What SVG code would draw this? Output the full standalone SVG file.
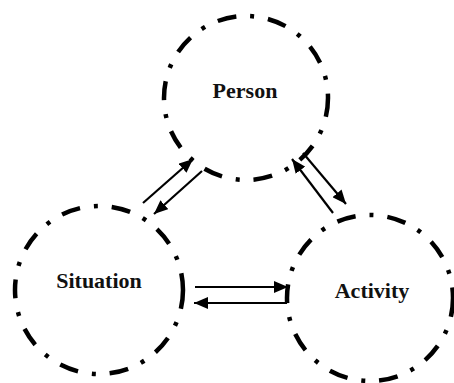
<svg xmlns="http://www.w3.org/2000/svg" width="454" height="383" viewBox="0 0 454 383">
<defs>
<style>
.node{fill:none;stroke:#000;stroke-width:4.5;stroke-dasharray:19 14 4 14}
.lbl{font-family:"Liberation Serif","Times New Roman",serif;font-weight:bold;font-size:22px;fill:#111;text-anchor:middle}
.arr{stroke:#000;stroke-width:2.2;fill:none;marker-end:url(#ah)}
</style>
<marker id="ah" markerUnits="userSpaceOnUse" markerWidth="14" markerHeight="12" refX="14" refY="6" orient="auto">
<path d="M0,0 L14,6 L0,12 z" fill="#000"/>
</marker>
</defs>
<rect width="454" height="383" fill="#fff"/>
<g id="person">
<circle class="node" cx="246" cy="98" r="82"/>
<text class="lbl" x="245" y="98">Person</text>
</g>
<g id="situation">
<circle class="node" cx="99" cy="290" r="84"/>
<text class="lbl" x="99" y="288">Situation</text>
</g>
<g id="activity">
<circle class="node" cx="370" cy="298" r="83"/>
<text class="lbl" x="372" y="298">Activity</text>
</g>
<g id="connectors">
<line class="arr" x1="143" y1="203" x2="193" y2="159"/>
<line class="arr" x1="202" y1="171" x2="154" y2="214"/>
<line class="arr" x1="303" y1="153" x2="346" y2="204"/>
<line class="arr" x1="333" y1="213" x2="292" y2="159"/>
<line class="arr" x1="195" y1="287" x2="288" y2="287"/>
<line class="arr" x1="287" y1="303" x2="194" y2="303"/>
</g>
</svg>
